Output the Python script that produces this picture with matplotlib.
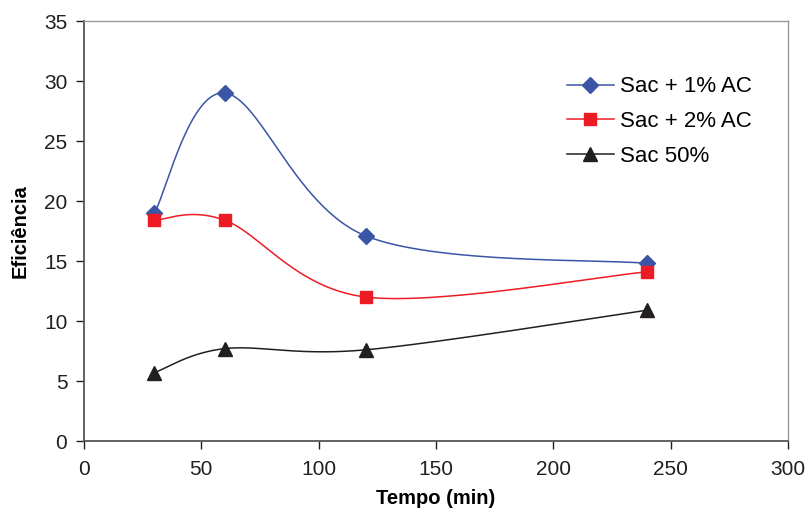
import numpy as np
import matplotlib.pyplot as plt

plt.rcParams['font.family'] = ['Liberation Sans', 'DejaVu Sans']

tempo = [30, 60, 120, 240]
sac_1ac = [19.0, 29.0, 17.1, 14.8]
sac_2ac = [18.4, 18.4, 12.0, 14.1]
sac_50 = [5.7, 7.7, 7.6, 10.9]

x_ticks = [0, 50, 100, 150, 200, 250, 300]
y_ticks = [0, 5, 10, 15, 20, 25, 30, 35]


def smooth_curve(x, y, n=60):
    """Spreadsheet-style smoothed line: cubic Bezier between points."""
    p = np.column_stack([x, y]).astype(float)
    ext = np.vstack([p[0], p, p[-1]])
    t = np.linspace(0, 1, n)[:, None]
    out = []
    for i in range(len(p) - 1):
        p0, p1, p2, p3 = ext[i], ext[i + 1], ext[i + 2], ext[i + 3]
        b1 = p1 + (p2 - p0) / 6
        b2 = p2 - (p3 - p1) / 6
        seg = ((1 - t) ** 3) * p1 + 3 * ((1 - t) ** 2) * t * b1 \
            + 3 * (1 - t) * t ** 2 * b2 + t ** 3 * p2
        out.append(seg)
    c = np.vstack(out)
    return c[:, 0], c[:, 1]


fig = plt.figure(figsize=(8.09, 5.16), dpi=100)
ax = fig.add_axes([0.1038, 0.1453, 0.8702, 0.814])

series = [
    (sac_1ac, 'Sac + 1% AC', '#3A55A5', 'D', 8.5),
    (sac_2ac, 'Sac + 2% AC', '#ED1C24', 's', 9),
    (sac_50, 'Sac 50%', '#231F20', '^', 10),
]
for vals, label, color, marker, ms in series:
    sx, sy = smooth_curve(tempo, vals)
    ax.plot(sx, sy, color=color, lw=1.1, zorder=2)
    ax.plot(tempo, vals, linestyle='none', marker=marker, ms=ms,
            color=color, zorder=3)
    # legend proxy
    ax.plot([], [], color=color, lw=1.1, marker=marker, ms=ms, label=label)

ax.set_xlim(0, 300)
ax.set_ylim(0, 35)
ax.set_xticks(x_ticks)
ax.set_yticks(y_ticks)
ax.tick_params(direction='out', length=6, width=1, labelsize=15,
               colors='#231F20', pad=6)
ax.tick_params(axis='x', pad=8)

for s in ['left', 'bottom']:
    ax.spines[s].set_color('#555555')
    ax.spines[s].set_linewidth(1.3)
for s in ['top', 'right']:
    ax.spines[s].set_color('#999999')
    ax.spines[s].set_linewidth(1)

ax.set_xlabel('Tempo (min)', fontsize=14.5, fontweight='bold', labelpad=7)
ax.set_ylabel('Eficiência', fontsize=14.5, fontweight='bold', labelpad=10)

ax.legend(loc='upper left', bbox_to_anchor=(0.686, 0.868), frameon=False,
          fontsize=16, handlelength=2.1, handletextpad=0.3,
          labelspacing=0.62, borderpad=0, borderaxespad=0)

fig.savefig('out.png', dpi=100)
